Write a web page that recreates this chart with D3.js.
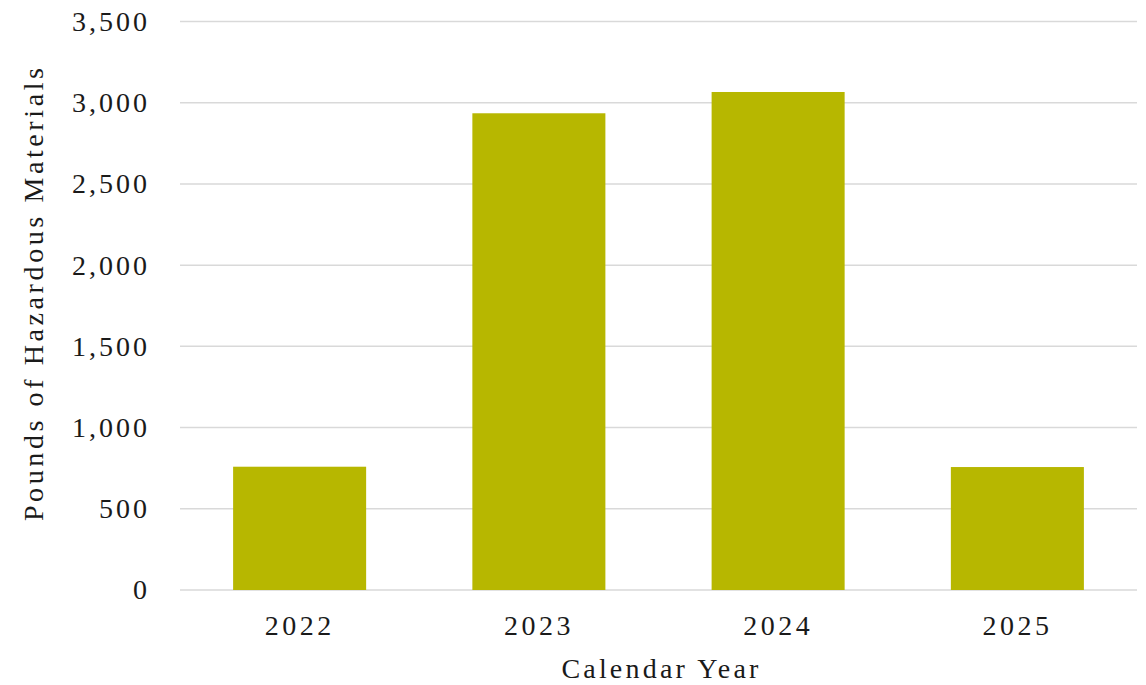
<!DOCTYPE html>
<html>
<head>
<meta charset="utf-8">
<script src="https://cdn.jsdelivr.net/npm/d3@7"></script>
<style>
  body { margin: 0; background: #fff; }
  svg text { font-family: "Liberation Serif", "Times New Roman", serif; fill: #1a1a1a; }
</style>
</head>
<body>
<svg id="chart"></svg>
<script>
// hazardous materials per calendar year
const years = ["2022", "2023", "2024", "2025"];
const pounds = [759, 2935, 3066, 757];
const yTicks = [0, 500, 1000, 1500, 2000, 2500, 3000, 3500];

const margin = { top: 21.5, right: 9, bottom: 95, left: 180 },
      width = 1146 - margin.left - margin.right,
      height = 685 - margin.top - margin.bottom;

const svg = d3.select("#chart")
  .attr("width", width + margin.left + margin.right)
  .attr("height", height + margin.top + margin.bottom)
  .append("g")
  .attr("transform", `translate(${margin.left},${margin.top})`);

const x = d3.scaleBand().domain(years).range([0, width]).paddingInner(0.444).paddingOuter(0.222);
const y = d3.scaleLinear().domain([0, 3500]).range([height, 0]);

// gridlines
svg.append("g")
  .selectAll("line")
  .data(yTicks)
  .join("line")
  .attr("x1", 0).attr("x2", width)
  .attr("y1", d => y(d)).attr("y2", d => y(d))
  .attr("stroke", "#d9d9d9")
  .attr("stroke-width", 1.5);

svg.selectAll("rect.bar")
  .data(years)
  .join("rect")
  .attr("class", "bar")
  .attr("x", d => x(d))
  .attr("width", x.bandwidth())
  .attr("y", (d, i) => y(pounds[i]))
  .attr("height", (d, i) => height - y(pounds[i]))
  .attr("fill", "#b7b700");

const yAxis = svg.append("g")
  .call(d3.axisLeft(y).tickValues(yTicks).tickFormat(d3.format(",")).tickSize(0).tickPadding(30));
yAxis.select(".domain").remove();
yAxis.selectAll("text")
  .style("font-size", "28px")
  .style("letter-spacing", "3px")
  .attr("fill", "#1a1a1a");

const xAxis = svg.append("g")
  .attr("transform", `translate(0,${height})`)
  .call(d3.axisBottom(x).tickSize(0).tickPadding(25));
xAxis.select(".domain").remove();
xAxis.selectAll("text")
  .style("font-size", "28px")
  .style("letter-spacing", "3.5px")
  .attr("fill", "#1a1a1a");

svg.append("text")
  .attr("x", width / 2 + 3)
  .attr("y", height + 88)
  .attr("text-anchor", "middle")
  .style("font-size", "28px")
  .style("letter-spacing", "3.2px")
  .text("Calendar Year");

svg.append("text")
  .attr("text-anchor", "middle")
  .attr("transform", `translate(${-137}, ${height / 2 - 13}) rotate(-90)`)
  .style("font-size", "28px")
  .style("letter-spacing", "3.6px")
  .text("Pounds of Hazardous Materials");
</script>
</body>
</html>
